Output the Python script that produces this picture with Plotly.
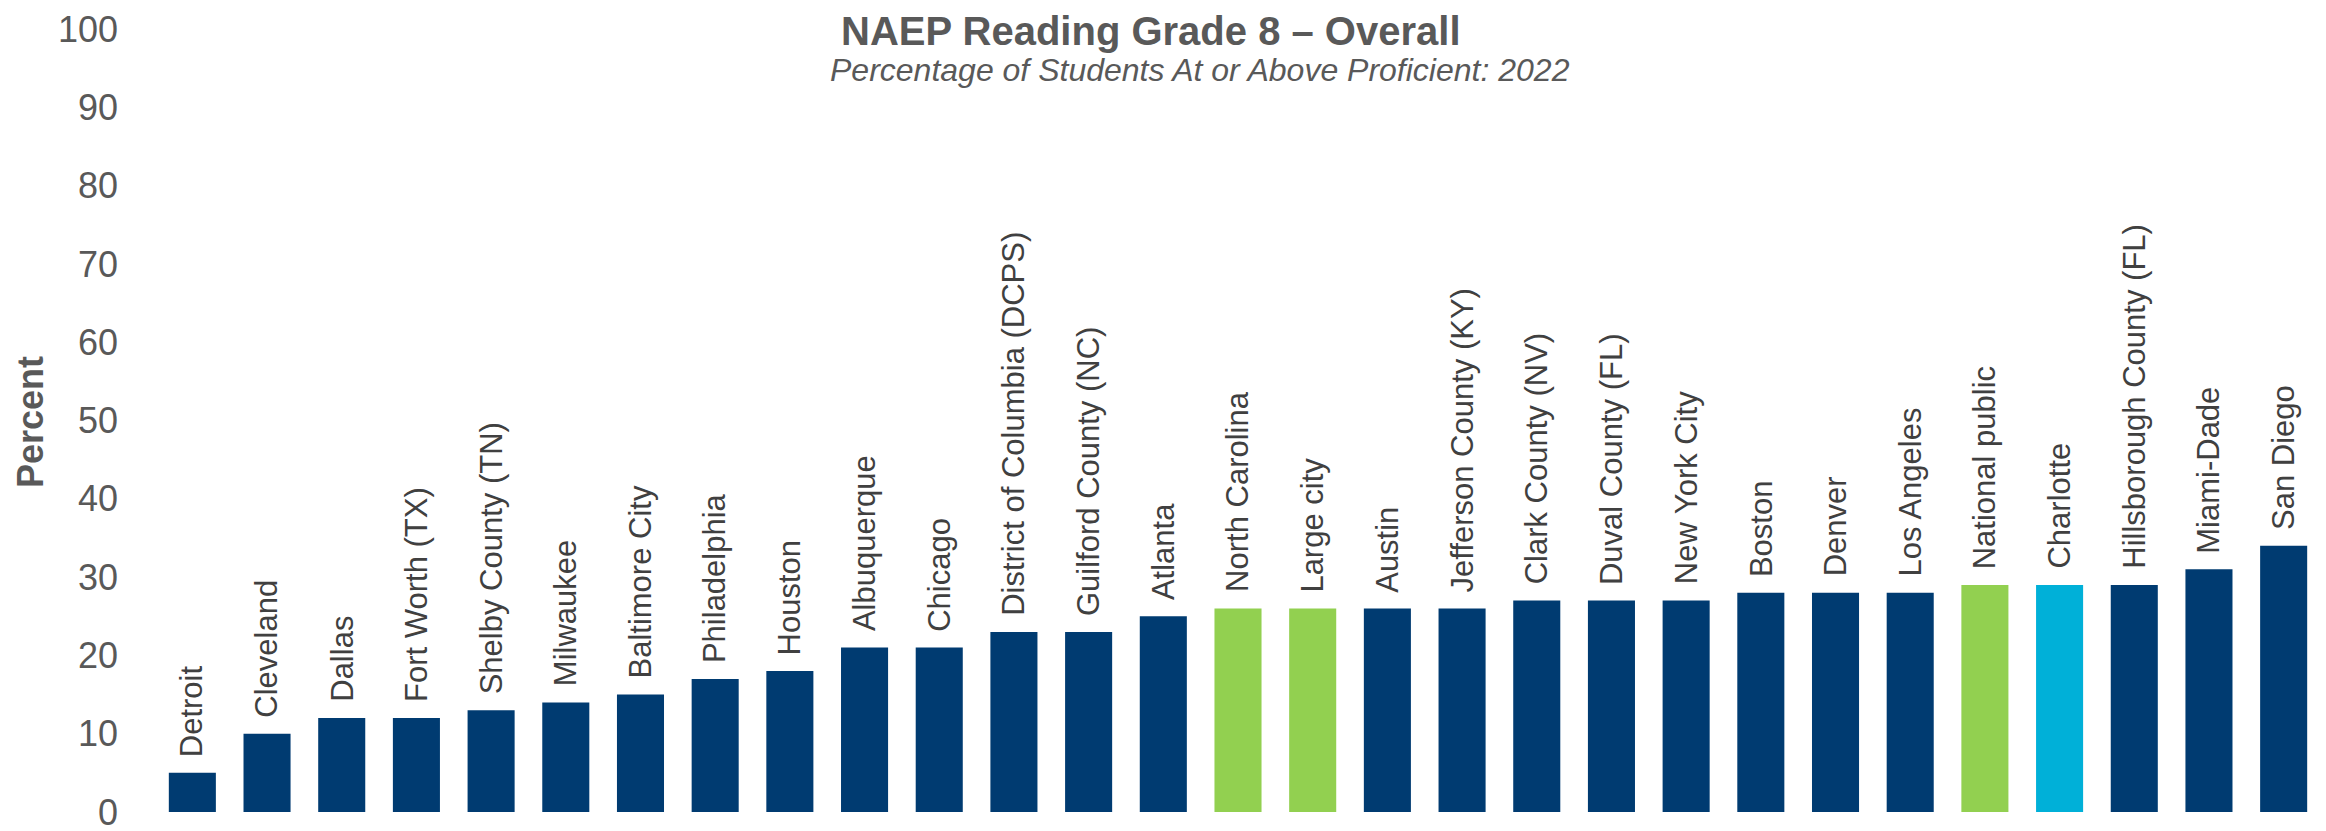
import plotly.graph_objects as go

categories = [
    "Detroit", "Cleveland", "Dallas", "Fort Worth (TX)", "Shelby County (TN)",
    "Milwaukee", "Baltimore City", "Philadelphia", "Houston", "Albuquerque",
    "Chicago", "District of Columbia (DCPS)", "Guilford County (NC)", "Atlanta",
    "North Carolina", "Large city", "Austin", "Jefferson County (KY)",
    "Clark County (NV)", "Duval County (FL)", "New York City", "Boston",
    "Denver", "Los Angeles", "National public", "Charlotte",
    "Hillsborough County (FL)", "Miami-Dade", "San Diego",
]
values = [5, 10, 12, 12, 13, 14, 15, 17, 18, 21, 21, 23, 23, 25, 26, 26, 26, 26,
          27, 27, 27, 28, 28, 28, 29, 29, 29, 31, 34]
y_ticks = [0, 10, 20, 30, 40, 50, 60, 70, 80, 90, 100]

benchmarks = {"North Carolina", "Large city", "National public"}
focus = {"Charlotte"}

NAVY = "#003B71"
GREEN = "#92D050"
CYAN = "#00B0D8"
colors = [GREEN if c in benchmarks else CYAN if c in focus else NAVY for c in categories]

FONT = "Liberation Sans, Arial, sans-serif"

fig = go.Figure(go.Bar(
    x=categories, y=values, marker=dict(color=colors, line=dict(width=0)),
    hoverinfo="x+y",
))

annotations = []
for c, v in zip(categories, values):
    annotations.append(dict(
        x=c, y=v, xref="x", yref="y", text=c, showarrow=False,
        textangle=-90, xanchor="center", yanchor="bottom", yshift=14,
        font=dict(family=FONT, size=31, color="#404040"),
    ))

L, R, T, B = 147, 13, 21, 27
W, H = 2326, 831
pw = W - L - R
ph = H - T - B

def px_x(x):
    return (x - L) / pw

def px_y(y):
    return (H - B - y) / ph

annotations += [
    dict(text="<b>NAEP Reading Grade 8 – Overall</b>", xref="paper", yref="paper",
         x=px_x(832), y=px_y(0), xanchor="left", yanchor="top", showarrow=False,
         borderpad=0,
         font=dict(family=FONT, size=40, color="#595959")),
    dict(text="<i>Percentage of Students At or Above Proficient: 2022</i>", xref="paper", yref="paper",
         x=px_x(820), y=px_y(62), xanchor="left", yanchor="middle", showarrow=False,
         font=dict(family=FONT, size=32, color="#595959")),
    dict(text="<b>Percent</b>", xref="paper", yref="paper",
         x=px_x(22), y=px_y(414), xanchor="center", yanchor="middle", showarrow=False,
         textangle=-90,
         font=dict(family=FONT, size=36, color="#595959")),
]

fig.update_layout(
    width=W, height=H,
    margin=dict(l=L, r=R, t=T, b=B, pad=0, autoexpand=False),
    paper_bgcolor="white", plot_bgcolor="white",
    bargap=0.37,
    showlegend=False,
    annotations=annotations,
    xaxis=dict(showticklabels=False, showgrid=False, zeroline=False, showline=False,
               ticks="", automargin=False),
    yaxis=dict(range=[0, 100], tickvals=y_ticks, showgrid=False, zeroline=False,
               showline=False, ticks="", ticklabelstandoff=36, ticklabeloverflow="allow",
               automargin=False,
               tickfont=dict(family=FONT, size=36, color="#595959")),
)

fig.write_html("out.html")
